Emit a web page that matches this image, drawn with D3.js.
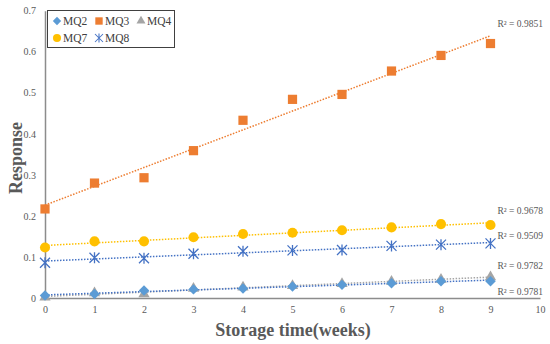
<!DOCTYPE html>
<html><head><meta charset="utf-8">
<script src="https://cdn.jsdelivr.net/npm/d3@7"></script>
<style>body{margin:0;background:#fff}svg{display:block}text{font-family:"Liberation Serif","Times New Roman",serif}</style>
</head><body><svg id="c" width="550" height="344"></svg>
<script>
const weeks = [0,1,2,3,4,5,6,7,8,9];
const seriesNames = ["MQ2","MQ3","MQ4","MQ7","MQ8"];
const mq2 = [0.006,0.010,0.018,0.021,0.023,0.028,0.032,0.036,0.041,0.041];
const mq3 = [0.217,0.280,0.293,0.359,0.433,0.484,0.496,0.553,0.591,0.620];
const mq4 = [0.002,0.012,0.010,0.023,0.026,0.030,0.035,0.040,0.045,0.051];
const mq7 = [0.123,0.138,0.138,0.148,0.156,0.159,0.165,0.172,0.180,0.178];
const mq8 = [0.086,0.098,0.097,0.108,0.114,0.116,0.117,0.127,0.130,0.133];
const r2Labels = {MQ3:"R² = 0.9851",MQ7:"R² = 0.9678",MQ8:"R² = 0.9509",MQ4:"R² = 0.9782",MQ2:"R² = 0.9781"};
const xTicks = [0,1,2,3,4,5,6,7,8,9,10];
const yTicks = [0,0.1,0.2,0.3,0.4,0.5,0.6,0.7];

const colors = {MQ2:"#5B9BD5",MQ3:"#ED7D31",MQ4:"#A5A5A5",MQ7:"#FFC000",MQ8:"#4472C4"};
const values = {MQ2:mq2,MQ3:mq3,MQ4:mq4,MQ7:mq7,MQ8:mq8};
const labelDy = {MQ3:-12,MQ7:-12,MQ8:-7,MQ4:-11,MQ2:12};

const svg = d3.select("#c");
const x = d3.scaleLinear().domain([0,10]).range([45,540]);
const y = d3.scaleLinear().domain([0,0.7]).range([298,10.7]);

// axes
const xa = svg.append("g").attr("transform",`translate(0,${y(0)})`)
  .call(d3.axisBottom(x).tickValues(xTicks).tickSize(0).tickPadding(8).tickFormat(d3.format("d")));
const ya = svg.append("g").attr("transform",`translate(${x(0)},0)`)
  .call(d3.axisLeft(y).tickValues(yTicks).tickSize(0).tickPadding(9).tickFormat(d=>d===0?"0":d3.format(".1f")(d)));
[xa,ya].forEach(g=>{
  g.select(".domain").attr("stroke","#8c8c8c").attr("stroke-width",1.5);
  g.selectAll("text").attr("font-family","Liberation Serif").attr("font-size",10).attr("fill","#595959");
});

function symbolPath(name){
  const s = {
    MQ2: d3.symbol(d3.symbolDiamond2, 70)(),
    MQ3: d3.symbol(d3.symbolSquare, 85)(),
    MQ4: d3.symbol(d3.symbolTriangle, 55)(),
    MQ7: d3.symbol(d3.symbolCircle, 80)()
  };
  return s[name];
}
function drawMarker(g, name){
  if(name==="MQ8"){
    const r=5;
    g.append("path").attr("d",`M${-r},${-r}L${r},${r}M${-r},${r}L${r},${-r}M0,${-r-0.5}L0,${r+0.5}`)
      .attr("stroke",colors[name]).attr("stroke-width",1.3).attr("fill","none");
  } else {
    g.append("path").attr("d",symbolPath(name)).attr("fill",colors[name]);
  }
}

// trendlines (least squares) and markers
const drawOrder = ["MQ4","MQ2","MQ8","MQ7","MQ3"];
drawOrder.forEach(name=>{
  const v = values[name];
  const n = weeks.length, mx = d3.mean(weeks), my = d3.mean(v);
  const b = d3.sum(weeks,(w,i)=>(w-mx)*(v[i]-my))/d3.sum(weeks,w=>(w-mx)*(w-mx));
  const a = my - b*mx;
  const x0 = weeks[0], x1 = weeks[n-1];
  svg.append("line").attr("x1",x(x0)).attr("y1",y(a+b*x0)).attr("x2",x(x1)).attr("y2",y(a+b*x1))
    .attr("stroke",name==="MQ2"?"#4472C4":colors[name]).attr("stroke-width",1.5)
    .attr("stroke-dasharray","1.5,1.5");
  svg.append("text").attr("x",x(x1)+7).attr("y",y(a+b*x1)+labelDy[name]).attr("dy","0.35em")
    .attr("font-size",9.5).attr("fill","#595959").text(r2Labels[name]);
});
drawOrder.forEach(name=>{
  const v = values[name];
  weeks.forEach((w,i)=>{
    const g = svg.append("g").attr("transform",`translate(${x(w)},${y(v[i])})`);
    drawMarker(g,name);
  });
});

// legend
const lg = svg.append("g");
lg.append("rect").attr("x",47.5).attr("y",10.5).attr("width",127).attr("height",37)
  .attr("fill","#fff").attr("stroke","#404040").attr("stroke-width",1);
const legPos = {MQ2:[57,21],MQ3:[99,21],MQ4:[141,21],MQ7:[57,38],MQ8:[99,38]};
seriesNames.forEach(name=>{
  const [lx,ly] = legPos[name];
  const g = lg.append("g").attr("transform",`translate(${lx},${ly}) scale(0.8)`);
  drawMarker(g,name);
  lg.append("text").attr("x",lx+6).attr("y",ly).attr("dy","0.35em").attr("font-size",11.5)
    .attr("fill","#404040").text(name);
});

// axis titles
svg.append("text").attr("x",293).attr("y",336).attr("text-anchor","middle")
  .attr("font-weight","bold").attr("font-size",18).attr("fill","#595959").text("Storage time(weeks)");
svg.append("text").attr("transform","translate(22,158) rotate(-90)").attr("text-anchor","middle")
  .attr("font-weight","bold").attr("font-size",18).attr("fill","#595959").text("Response");
</script></body></html>
